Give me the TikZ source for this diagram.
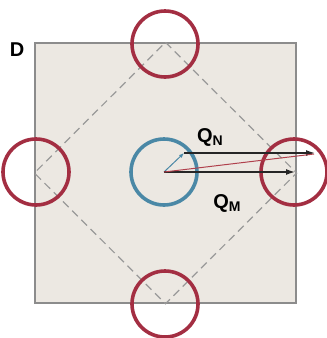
\documentclass[tikz,border=0pt]{standalone}
\usepackage{fontspec}
\setmainfont{Liberation Sans}
\usetikzlibrary{arrows.meta}
\definecolor{sqfill}{HTML}{ECE8E2}
\definecolor{sqline}{HTML}{8C8C8C}
\definecolor{ringred}{HTML}{A32E42}
\definecolor{ringblue}{HTML}{4A88A6}
\definecolor{arrred}{HTML}{B0404C}
\newcommand{\mysub}[1]{\raisebox{-0.35ex}{\fontsize{14}{14}\selectfont #1}}
\begin{document}
\begin{tikzpicture}[x=1pt,y=-1pt,
  ring/.style={draw=ringred,line width=3.6pt,circle,minimum size=66pt,inner sep=0pt},
  lbl/.style={font=\bfseries\fontsize{20}{20}\selectfont,inner sep=0pt},
  arr/.style={-{Latex[length=9pt,width=6pt]},line width=1.4pt,black!85}]
\useasboundingbox (0,0) rectangle (327,338);
\clip (0,0) rectangle (327,338);
% square
\node[draw=sqline,fill=sqfill,line width=1.3pt,minimum width=261pt,minimum height=260pt,inner sep=0pt] (sq) at (165.5,173) {};
% diamond
\coordinate (dt) at (sq.north);
\coordinate (db) at (sq.south);
\coordinate (dl) at (sq.west);
\coordinate (dr) at (sq.east);
\draw[gray!80,line width=1.2pt,dash pattern=on 8pt off 5pt] (dt) -- (dr) -- (db) -- (dl) -- cycle;
% rings
\node[ring] (rt) at (165,44) {};
\node[ring] (rb) at (165,304) {};
\node[ring] (rl) at (36,172) {};
\node[ring] (rr) at (294,172) {};
\node[ring,draw=ringblue] (bc) at (164,172) {};
% vectors
\coordinate (c) at (164,172);
\coordinate (qns) at (184,153);
\coordinate (qne) at (315,153);
\coordinate (qme) at (295,172);
\draw[-{Latex[length=5pt,width=4pt]},line width=1pt,ringblue] (c) -- (qns);
\draw[arr] (qns) -- (qne);
\draw[arr] (c) -- (qme);
\draw[arrred,line width=1pt] (c) -- (314,154);
% labels
\node[lbl] (qn) at (210,137) {Q\mysub{N}};
\node[lbl] (qm) at (227,203) {Q\mysub{M}};
\node[lbl] (d) at (17,50) {D};
\end{tikzpicture}
\end{document}
